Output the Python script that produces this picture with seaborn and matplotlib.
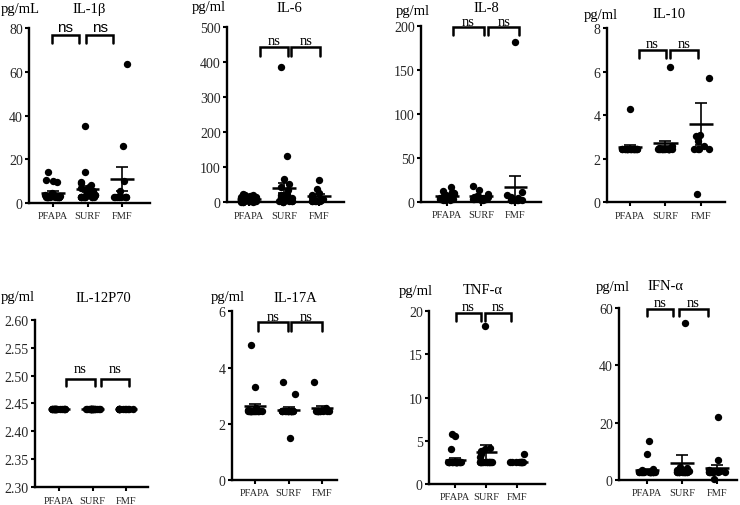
import numpy as np
import pandas as pd
import matplotlib
matplotlib.use("Agg")
import matplotlib.pyplot as plt
import matplotlib.transforms as mtransforms
from matplotlib.ticker import FormatStrFormatter
import seaborn as sns

groups = ["PFAPA", "SURF", "FMF"]

# ---------------- data (pg/ml) ----------------
il1b_pfapa = [14.2, 10.4, 10.0, 9.6, 4.6, 4.0, 3.5, 3.2, 3.0, 2.9, 2.8, 2.8, 2.8, 2.8, 2.8, 2.8, 2.8, 2.8, 2.8, 2.8, 2.8, 2.8]
il1b_surf = [35.0, 14.3, 9.8, 9.0, 8.2, 7.5, 7.0, 6.5, 6.0, 5.5, 5.0, 4.6, 4.2, 3.8, 3.5, 3.2,
             2.8, 2.8, 2.8, 2.8, 2.8, 2.8, 2.8, 2.8, 2.8, 2.8]
il1b_fmf = [63.7, 26.0, 10.0, 5.3, 2.8, 2.8, 2.8, 2.8, 2.8, 2.8, 2.8, 2.8]
il1b_mean = [4.8, 6.4, 11.0]
il1b_sem = [0.8, 1.4, 5.3]

il6_pfapa = [25, 22, 20, 18, 16, 14, 12, 10, 9, 8, 7, 6, 5, 5, 4, 4, 3, 3, 3, 3, 2, 2, 2, 2]
il6_surf = [387, 133, 67, 52, 45, 35, 25, 20, 15, 12, 10, 8, 6, 5, 4, 3, 3, 3, 3, 3, 2, 2]
il6_fmf = [64, 38, 28, 20, 15, 10, 8, 5, 3, 3, 3, 3]
il6_mean = [8.5, 40.0, 17.0]
il6_sem = [1.5, 14.0, 6.0]

il8_pfapa = [17, 12.5, 11, 10, 9, 8, 7, 6, 5, 5, 4, 4, 3, 3, 3, 2.5, 2.5, 2.5]
il8_surf = [17.5, 13, 9, 7, 6, 5, 5, 4.5, 4, 4, 3.5, 3, 3, 3, 2.5, 2.5]
il8_fmf = [182, 11.5, 8, 5, 4, 3, 3, 2, 2, 2, 2, 2, 2, 2]
il8_mean = [6.3, 6.0, 16.8]
il8_sem = [1.0, 1.0, 12.5]

il10_pfapa = [4.3, 2.45, 2.45, 2.45, 2.45, 2.45, 2.45, 2.45, 2.45, 2.45, 2.45, 2.45, 2.45, 2.45, 2.45, 2.45, 2.45, 2.45, 2.45]
il10_surf = [6.2, 2.6, 2.5, 2.45, 2.45, 2.45, 2.45, 2.45, 2.45, 2.45, 2.45, 2.45, 2.45, 2.45, 2.45, 2.45, 2.45, 2.45]
il10_fmf = [5.7, 3.1, 3.05, 2.8, 2.6, 2.45, 2.45, 2.45, 2.45, 0.4]
il10_mean = [2.55, 2.70, 3.58]
il10_sem = [0.10, 0.13, 0.97]

il12_pfapa = [2.44, 2.44, 2.44, 2.44, 2.44, 2.44, 2.44, 2.44, 2.44, 2.44, 2.44, 2.44, 2.44, 2.44, 2.44, 2.44, 2.44, 2.44, 2.44, 2.44]
il12_surf = [2.44, 2.44, 2.44, 2.44, 2.44, 2.44, 2.44, 2.44, 2.44, 2.44, 2.44, 2.44, 2.44, 2.44, 2.44, 2.44, 2.44, 2.44, 2.44, 2.44]
il12_fmf = [2.44, 2.44, 2.44, 2.44, 2.44, 2.44, 2.44, 2.44, 2.44, 2.44, 2.44, 2.44]
il12_mean = [2.44, 2.44, 2.44]
il12_sem = [0.0, 0.0, 0.0]

il17_pfapa = [4.8, 3.3, 2.55, 2.5, 2.45, 2.45, 2.45, 2.45, 2.45, 2.45, 2.45, 2.45, 2.45, 2.45, 2.45, 2.45, 2.45, 2.45, 2.45, 2.45]
il17_surf = [3.5, 3.05, 1.5, 2.45, 2.45, 2.45, 2.45, 2.45, 2.45, 2.45, 2.45, 2.45, 2.45, 2.45, 2.45, 2.45, 2.45, 2.45, 2.45]
il17_fmf = [3.5, 2.55, 2.45, 2.45, 2.45, 2.45, 2.45, 2.45, 2.45, 2.45, 2.45, 2.45]
il17_mean = [2.62, 2.50, 2.55]
il17_sem = [0.08, 0.08, 0.09]

tnf_pfapa = [5.8, 5.6, 4.0, 2.6, 2.5, 2.5, 2.5, 2.5, 2.5, 2.5, 2.5, 2.5, 2.5, 2.5, 2.5, 2.5, 2.5, 2.5, 2.5, 2.5, 2.5, 2.5]
tnf_surf = [18.3, 4.2, 4.0, 3.8, 3.5, 3.1, 2.5, 2.5, 2.5, 2.5, 2.5, 2.5, 2.5, 2.5, 2.5, 2.5, 2.5, 2.5, 2.5, 2.5]
tnf_fmf = [3.5, 2.5, 2.5, 2.5, 2.5, 2.5, 2.5, 2.5, 2.5, 2.5, 2.5]
tnf_mean = [2.82, 3.67, 2.60]
tnf_sem = [0.18, 0.85, 0.10]

ifn_pfapa = [13.6, 9.0, 3.7, 3.3, 2.8, 2.8, 2.8, 2.8, 2.8, 2.8, 2.8, 2.8, 2.8, 2.8, 2.8, 2.8, 2.8, 2.8, 2.8, 2.8]
ifn_surf = [55.0, 4.6, 4.2, 3.8, 3.5, 3.2, 2.8, 2.8, 2.8, 2.8, 2.8, 2.8, 2.8, 2.8, 2.8, 2.8, 2.8, 2.8]
ifn_fmf = [22.0, 7.0, 3.5, 3.0, 2.8, 2.8, 2.8, 2.8, 2.8, 2.8, 2.8, 2.8, 0.2]
ifn_mean = [3.4, 5.7, 4.1]
ifn_sem = [0.5, 2.9, 1.2]

# ---------------- style ----------------
sns.set_style("ticks")
plt.rcParams["font.family"] = ["Liberation Serif", "DejaVu Serif"]
plt.rcParams["axes.linewidth"] = 1.7

W, H = 740, 506
fig = plt.figure(figsize=(W / 100, H / 100), dpi=100)
fig.patch.set_facecolor("white")

panels = [
    dict(name="IL-1β", unit="pg/mL", data=(il1b_pfapa, il1b_surf, il1b_fmf), mean=il1b_mean, sem=il1b_sem,
         ylim=(0, 80), yticks=[0, 20, 40, 60, 80], rect=(29, 29, 150, 204), xlim=(-0.70, 2.81),
         br=[(-0.03, 0.75), (0.96, 1.74)], by=(0.960, 0.914), ny=0.983, nsfam="Liberation Sans",
         unit_xy=(20, 9), name_xy=(89, 9)),
    dict(name="IL-6", unit="pg/ml", data=(il6_pfapa, il6_surf, il6_fmf), mean=il6_mean, sem=il6_sem,
         ylim=(0, 500), yticks=[0, 100, 200, 300, 400, 500], rect=(227, 28.3, 344, 203.3), xlim=(-0.63, 2.71),
         br=[(0.31, 1.10), (1.21, 2.03)], by=(0.886, 0.838), ny=0.905, nsfam=None,
         unit_xy=(209, 8), name_xy=(289, 8)),
    dict(name="IL-8", unit="pg/ml", data=(il8_pfapa, il8_surf, il8_fmf), mean=il8_mean, sem=il8_sem,
         ylim=(0, 200), yticks=[0, 50, 100, 150, 200], rect=(421, 26.7, 541, 202.7), xlim=(-0.76, 2.76),
         br=[(0.18, 1.09), (1.21, 2.12)], by=(0.990, 0.947), ny=1.004, nsfam=None,
         unit_xy=(413, 11), name_xy=(486, 8)),
    dict(name="IL-10", unit="pg/ml", data=(il10_pfapa, il10_surf, il10_fmf), mean=il10_mean, sem=il10_sem,
         ylim=(0, 8), yticks=[0, 2, 4, 6, 8], rect=(607, 29, 725, 203.3), xlim=(-0.65, 2.68),
         br=[(0.25, 1.02), (1.12, 1.93)], by=(0.875, 0.828), ny=0.889, nsfam=None,
         unit_xy=(601, 16), name_xy=(669, 15)),
    dict(name="IL-12P70", unit="pg/ml", data=(il12_pfapa, il12_surf, il12_fmf), mean=il12_mean, sem=il12_sem,
         ylim=(2.30, 2.60), yticks=[2.30, 2.35, 2.40, 2.45, 2.50, 2.55, 2.60], rect=(35, 320.7, 148, 488.3),
         xlim=(-0.72, 2.66), br=[(0.20, 1.07), (1.24, 2.10)], by=(0.646, 0.603), ny=0.686, nsfam=None,
         unit_xy=(18, 298), name_xy=(103, 298), fmt="%.2f"),
    dict(name="IL-17A", unit="pg/ml", data=(il17_pfapa, il17_surf, il17_fmf), mean=il17_mean, sem=il17_sem,
         ylim=(0, 6), yticks=[0, 2, 4, 6], rect=(231.7, 312.3, 336.7, 481), xlim=(-0.70, 2.44),
         br=[(0.08, 0.98), (1.07, 2.01)], by=(0.938, 0.885), ny=0.950, nsfam=None,
         unit_xy=(228, 298), name_xy=(295, 298)),
    dict(name="TNF-α", unit="pg/ml", data=(tnf_pfapa, tnf_surf, tnf_fmf), mean=tnf_mean, sem=tnf_sem,
         ylim=(0, 20), yticks=[0, 5, 10, 15, 20], rect=(429, 312.3, 545, 485), xlim=(-0.84, 2.90),
         br=[(0.03, 0.84), (0.97, 1.80)], by=(0.990, 0.946), ny=1.009, nsfam=None,
         unit_xy=(416, 292), name_xy=(483, 291)),
    dict(name="IFN-α", unit="pg/ml", data=(ifn_pfapa, ifn_surf, ifn_fmf), mean=ifn_mean, sem=ifn_sem,
         ylim=(0, 60), yticks=[0, 20, 40, 60], rect=(619, 309.3, 737, 480.7), xlim=(-0.80, 2.57),
         br=[(0.00, 0.73), (0.92, 1.73)], by=(0.996, 0.957), ny=1.012, nsfam=None,
         unit_xy=(613, 288), name_xy=(665, 287)),
]

for k, p in enumerate(panels):
    l, t, r, b = p["rect"]
    ax = fig.add_axes([l / W, 1 - b / H, (r - l) / W, (b - t) / H])
    a, s_, f = p["data"]
    df = pd.DataFrame({
        "group": ["PFAPA"] * len(a) + ["SURF"] * len(s_) + ["FMF"] * len(f),
        "value": list(a) + list(s_) + list(f),
    })
    np.random.seed(11 + k)
    sns.stripplot(data=df, x="group", y="value", order=groups, color="black", size=5.3,
                  jitter=0.23, linewidth=0, ax=ax, clip_on=False, zorder=3)
    for i, (m, e) in enumerate(zip(p["mean"], p["sem"])):
        ax.hlines(m, i - 0.34, i + 0.34, color="black", lw=1.8, zorder=4)
        if e > 0:
            ax.errorbar(i, m, yerr=e, fmt="none", ecolor="black", elinewidth=1.2,
                        capsize=4.3, capthick=1.2, zorder=4)
    ax.set_xlim(*p["xlim"])
    ax.set_ylim(*p["ylim"])
    ax.set_yticks(p["yticks"])
    if "fmt" in p:
        ax.yaxis.set_major_formatter(FormatStrFormatter(p["fmt"]))
    ax.set_xlabel("")
    ax.set_ylabel("")
    for side in ("top", "right"):
        ax.spines[side].set_visible(False)
    for side in ("left", "bottom"):
        ax.spines[side].set_linewidth(1.7)
        ax.spines[side].set_color("black")
    ax.tick_params(axis="both", direction="out", length=3, width=1.5, color="black")
    ax.tick_params(axis="y", labelsize=10, pad=1.5)
    ax.tick_params(axis="x", labelsize=7.5, pad=3)
    ax.set_facecolor("white")

    trans = mtransforms.blended_transform_factory(ax.transData, ax.transAxes)
    ytop, ybot = p["by"]
    for (x0, x1) in p["br"]:
        ax.plot([x0, x0, x1, x1], [ybot, ytop, ytop, ybot], color="black", lw=1.8,
                transform=trans, clip_on=False, solid_joinstyle="miter", zorder=5)
        kw = dict(ha="center", va="baseline", transform=trans, fontsize=10.5, color="black")
        if p["nsfam"]:
            kw["family"] = [p["nsfam"], "DejaVu Sans"]
            kw["fontsize"] = 11
        ax.text((x0 + x1) / 2, p["ny"], "ns", **kw)

    ux, uy = p["unit_xy"]
    nx, ny_ = p["name_xy"]
    fig.text(ux / W, 1 - uy / H, p["unit"], ha="center", va="center", fontsize=10.5, color="black")
    fig.text(nx / W, 1 - ny_ / H, p["name"], ha="center", va="center", fontsize=10.5, color="black")

fig.savefig("out.png", dpi=100, facecolor="white")
